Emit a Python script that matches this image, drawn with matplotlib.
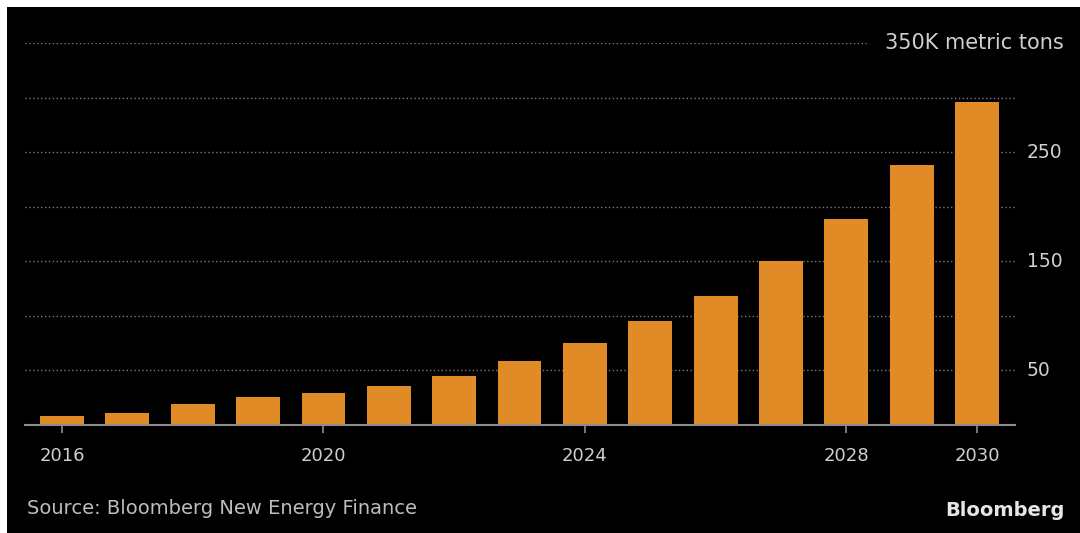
import matplotlib
matplotlib.use("Agg")
import matplotlib.pyplot as plt
from matplotlib.patches import Rectangle

years = list(range(2016, 2031))
values = [8, 11, 19, 25.5, 29, 36, 45, 59, 75, 95, 118.5, 150, 189, 238, 296]
xtick_years = [2016, 2020, 2024, 2028, 2030]
ytick_vals = [50, 150, 250]
grid_vals = [50, 100, 150, 200, 250, 300, 350]
unit_label = "350K metric tons"
source = "Source: Bloomberg New Energy Finance"
brand = "Bloomberg"

plt.rcParams['font.family'] = ['DejaVu Sans']
W, H = 1080, 533
fig = plt.figure(figsize=(W / 100, H / 100), dpi=100, facecolor='black')

left, right = 25 / W, 1015 / W
bottom, top = 1 - 425 / H, 1 - 43 / H
ax = fig.add_axes([left, bottom, right - left, top - bottom])
ax.set_facecolor('black')

ax.bar(years, values, width=0.67, color='#e08b25', zorder=3)
ax.set_xlim(2015.434, 2030.58)
ax.set_ylim(0, 350)

for v in grid_vals:
    xmax = 0.853 if v == 350 else 1.0
    ax.axhline(v, xmin=0, xmax=xmax, color='#7a7a7a', lw=1.0,
               linestyle=(0, (1, 1.8)), zorder=1)

for s in ['top', 'right', 'left']:
    ax.spines[s].set_visible(False)
ax.spines['bottom'].set_color('#8c8c8c')
ax.spines['bottom'].set_linewidth(1.5)
ax.spines['bottom'].set_zorder(4)

ax.set_xticks(xtick_years)
ax.set_xticklabels([str(y) for y in xtick_years])
ax.tick_params(axis='x', colors='#8c8c8c', length=6, width=1.2, pad=10,
               labelsize=13, labelcolor='#cfcfcf')
ax.set_yticks([])

for v in ytick_vals:
    ax.text(1.012, v, str(v), transform=ax.get_yaxis_transform(),
            ha='left', va='center', color='#cfcfcf', fontsize=13.5)
ax.text(1.049, 350, unit_label, transform=ax.get_yaxis_transform(),
        ha='right', va='center', color='#cfcfcf', fontsize=15)

fig.text(27 / W, 1 - 508 / H, source, ha='left', va='center',
         color='#bdbdbd', fontsize=14)
fig.text(1065 / W, 1 - 511 / H, brand, ha='right', va='center',
         color='#e6e6e6', fontsize=14, fontweight='bold')

# white border strips at top and left (as in the source screenshot)
fig.patches.append(Rectangle((0, 1 - 7 / H), 1, 7 / H, transform=fig.transFigure,
                             facecolor='white', edgecolor='none', zorder=10))
fig.patches.append(Rectangle((0, 0), 7 / W, 1, transform=fig.transFigure,
                             facecolor='white', edgecolor='none', zorder=10))

fig.savefig('out.png', dpi=100, facecolor='black')
